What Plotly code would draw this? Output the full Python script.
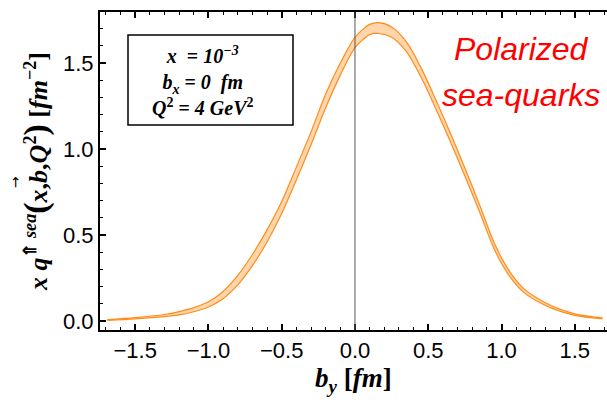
import plotly.graph_objects as go

# ---- data ----
b_y = [-1.69, -1.5, -1.3, -1.2, -1.1, -1.0, -0.9, -0.8, -0.7, -0.6, -0.5, -0.4, -0.3, -0.2, -0.1,
       0.0, 0.1, 0.16, 0.25, 0.35, 0.45, 0.55, 0.65, 0.75, 0.85, 0.95, 1.05, 1.15, 1.25, 1.35, 1.5, 1.69]
upper = [0.008, 0.02, 0.038, 0.055, 0.078, 0.112, 0.172, 0.265, 0.387, 0.53, 0.695, 0.895, 1.10, 1.32, 1.50,
         1.65, 1.725, 1.735, 1.71, 1.625, 1.475, 1.29, 1.095, 0.89, 0.677, 0.455, 0.295, 0.19, 0.13, 0.086, 0.042, 0.018]
lower = [0.004, 0.013, 0.026, 0.036, 0.054, 0.082, 0.13, 0.21, 0.322, 0.46, 0.625, 0.82, 1.025, 1.24, 1.43,
         1.59, 1.665, 1.672, 1.65, 1.568, 1.42, 1.238, 1.045, 0.844, 0.635, 0.419, 0.267, 0.168, 0.112, 0.072, 0.033, 0.012]
x_ticks = [-1.5, -1.0, -0.5, 0.0, 0.5, 1.0, 1.5]
y_ticks = [0.0, 0.5, 1.0, 1.5]
x_range = [-1.74, 1.72]
y_range = [-0.052, 1.797]

W, H = 607, 403
L, R, T, B = 100, 0, 12, 73
pw, ph = W - L - R, H - T - B

def px(xp):
    return (xp - L) / pw

def py(yp):
    return (H - B - yp) / ph

edge = "#FF8C1A"
fig = go.Figure()
fig.add_trace(go.Scatter(x=b_y, y=lower, mode="lines",
                         line=dict(color=edge, width=1.2, shape="spline", smoothing=0.8),
                         showlegend=False, hoverinfo="skip"))
fig.add_trace(go.Scatter(x=b_y, y=upper, mode="lines", fill="tonexty",
                         fillcolor="rgba(255,214,172,1)",
                         line=dict(color=edge, width=1.2, shape="spline", smoothing=0.8),
                         showlegend=False, hoverinfo="skip"))

tickfont = dict(family="Liberation Sans, Arial, sans-serif", size=22, color="black")
fig.update_xaxes(range=x_range, tickvals=x_ticks, tickformat=".1f", ticks="inside", ticklen=6,
                 tickwidth=1.5, tickcolor="black", showline=True, linewidth=2, linecolor="black",
                 mirror="ticks", showgrid=False, zeroline=False, tickfont=tickfont,
                 minor=dict(dtick=0.1, tick0=0, ticks="inside", ticklen=3, tickwidth=1.2,
                            tickcolor="black", showgrid=False))
fig.update_yaxes(range=y_range, tickvals=y_ticks, tickformat=".1f", ticks="inside", ticklen=6,
                 tickwidth=1.5, tickcolor="black", showline=True, linewidth=2, linecolor="black",
                 mirror=False, showgrid=False, zeroline=False, tickfont=tickfont,
                 minor=dict(dtick=0.1, tick0=0, ticks="inside", ticklen=3, tickwidth=1.2,
                            tickcolor="black", showgrid=False))

serif = "Liberation Serif, Times New Roman, serif"
shapes = [
    dict(type="line", xref="x", yref="paper", x0=0, x1=0, y0=0, y1=1,
         line=dict(color="#555555", width=1)),
    dict(type="rect", xref="paper", yref="paper", x0=px(128), x1=px(293), y0=py(125), y1=py(35),
         line=dict(color="black", width=1.5)),
]

big = '<span style="font-size:34px">'
annotations = [
    dict(xref="paper", yref="paper", x=px(203), y=py(81), xanchor="center", yanchor="middle",
         showarrow=False, align="center",
         text="<b><i>x</i>  = <i>10</i><sup><i>−3</i></sup><br><i>b<sub>x</sub></i> = <i>0  fm</i><br>"
              "<i>Q</i><sup>2</sup> = <i>4 GeV</i><sup>2</sup></b>",
         font=dict(family=serif, size=20, color="black")),
    dict(xref="paper", yref="paper", x=px(521), y=py(49), xanchor="center", yanchor="middle",
         showarrow=False, text="<i>Polarized</i>",
         font=dict(family="Liberation Sans, Arial, sans-serif", size=32, color="#FF0000")),
    dict(xref="paper", yref="paper", x=px(521), y=py(95), xanchor="center", yanchor="middle",
         showarrow=False, text="<i>sea-quarks</i>",
         font=dict(family="Liberation Sans, Arial, sans-serif", size=32, color="#FF0000")),
    dict(xref="paper", yref="paper", x=px(353), y=py(380), xanchor="center", yanchor="middle",
         showarrow=False, text="<b><i>b</i><sub><i>y</i></sub> [<i>fm</i>]</b>",
         font=dict(family=serif, size=27, color="black")),
    dict(xref="paper", yref="paper", x=px(36), y=py(172), xanchor="center", yanchor="middle",
         showarrow=False, textangle=-90,
         text="<b><i>x q</i><sup>⇑ <i>sea</i></sup>" + big + "(</span><i>x</i>,<i>b</i>,<i>Q</i><sup>2</sup>"
              + big + ")</span> [<i>fm</i><sup>−2</sup>]</b>",
         font=dict(family=serif, size=26, color="black")),
    dict(xref="paper", yref="paper", x=px(15), y=py(182), xanchor="center", yanchor="middle",
         showarrow=False, textangle=-90, text="→",
         font=dict(family="DejaVu Sans, sans-serif", size=14, color="black")),
]

fig.update_layout(width=W, height=H, margin=dict(l=L, r=R, t=T, b=B),
                  paper_bgcolor="white", plot_bgcolor="white",
                  shapes=shapes, annotations=annotations)

fig.write_html("out.html")
